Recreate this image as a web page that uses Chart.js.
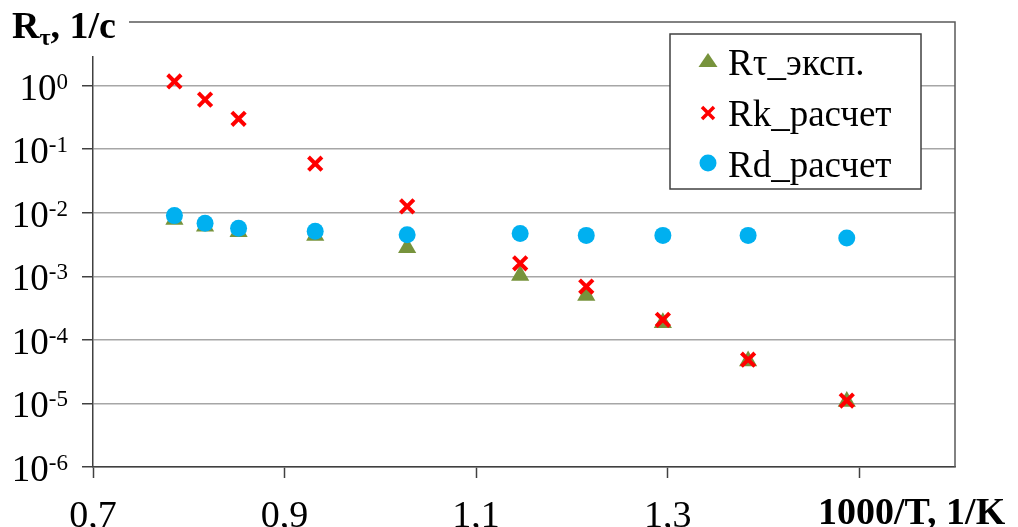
<!DOCTYPE html>
<html>
<head>
<meta charset="utf-8">
<script src="https://cdn.jsdelivr.net/npm/chart.js@4"></script>
<style>
html, body { margin: 0; padding: 0; background: #fff; }
</style>
</head>
<body>
<canvas id="myChart" width="1018" height="527"></canvas>
<script>
// 1000/T, 1/K
const invT = [0.785, 0.817, 0.852, 0.932, 1.028, 1.146, 1.215, 1.295, 1.384, 1.487];
// Rτ эксп., 1/c
const rTauExp = [0.0078, 0.0061, 0.0050, 0.0044, 0.0028, 0.00103, 0.00050, 0.000185, 0.0000465, 0.0000107];
// Rk расчет
const rkCalc = [1.16, 0.60, 0.30, 0.059, 0.0126, 0.0016, 0.00069, 0.000207, 0.0000487, 0.0000111];
// Rd расчет
const rdCalc = [0.0090, 0.0068, 0.0057, 0.0051, 0.0045, 0.0047, 0.0044, 0.0044, 0.0044, 0.0040];

const seriesNames = ['Rτ_эксп.', 'Rk_расчет', 'Rd_расчет'];
const xTicks = [0.7, 0.9, 1.1, 1.3, 1.5];
const xTickLabels = ['0,7', '0,9', '1,1', '1,3', ''];
const yTicks = [1e-6, 1e-5, 1e-4, 1e-3, 1e-2, 1e-1, 1e0];
const yTickPowers = ['-6', '-5', '-4', '-3', '-2', '-1', '0'];
const yTitle = ['R', 'τ', ', 1/c'];
const xTitle = '1000/T, 1/K';

const green = '#77933c', red = '#ff0000', blue = '#00b0f0';
const serif = '"Liberation Serif", "Times New Roman", serif';

function pts(ys) {
  return invT.map((x, i) => ({ x: x, y: ys[i] }));
}

// подписи, легенда, рамка
const decor = {
  id: 'decor',
  afterDraw(chart) {
    const ctx = chart.ctx, a = chart.chartArea, ys = chart.scales.y;
    ctx.save();

    // верх и правая сторона рамки
    ctx.strokeStyle = '#595959';
    ctx.lineWidth = 1.5;
    ctx.beginPath();
    ctx.moveTo(a.left, a.top);
    ctx.lineTo(a.right, a.top);
    ctx.lineTo(a.right, a.bottom);
    ctx.stroke();

    // заголовок оси Y
    ctx.fillStyle = '#fff';
    ctx.fillRect(0, 0, 129, 56);
    ctx.fillStyle = '#000';
    ctx.textAlign = 'left';
    ctx.textBaseline = 'alphabetic';
    ctx.font = 'bold 38px ' + serif;
    ctx.fillText(yTitle[0], 12, 38);
    let tx = 12 + ctx.measureText(yTitle[0]).width;
    ctx.font = 'bold 24px ' + serif;
    ctx.fillText(yTitle[1], tx, 45);
    tx += ctx.measureText(yTitle[1]).width;
    ctx.font = 'bold 38px ' + serif;
    ctx.fillText(yTitle[2], tx, 38);

    // подписи оси Y со степенью
    ctx.textAlign = 'right';
    yTicks.forEach((v, i) => {
      const py = ys.getPixelForValue(v);
      ctx.font = '23px ' + serif;
      const sw = ctx.measureText(yTickPowers[i]).width;
      ctx.fillText(yTickPowers[i], 68, py + 3);
      ctx.font = '37px ' + serif;
      ctx.fillText('10', 68 - sw, py + 14);
    });

    // заголовок оси X
    ctx.textAlign = 'left';
    ctx.font = 'bold 38px ' + serif;
    ctx.fillText(xTitle, 818, 524);

    // легенда
    ctx.fillStyle = '#fff';
    ctx.fillRect(670, 34, 251, 155);
    ctx.strokeStyle = '#404040';
    ctx.lineWidth = 1.5;
    ctx.strokeRect(670, 34, 251, 155);

    ctx.fillStyle = green;
    ctx.beginPath();
    ctx.moveTo(708, 53);
    ctx.lineTo(717.5, 67);
    ctx.lineTo(698.5, 67);
    ctx.closePath();
    ctx.fill();

    ctx.strokeStyle = red;
    ctx.lineWidth = 3.5;
    ctx.beginPath();
    ctx.moveTo(702, 107); ctx.lineTo(714, 119);
    ctx.moveTo(714, 107); ctx.lineTo(702, 119);
    ctx.stroke();

    ctx.fillStyle = blue;
    ctx.beginPath();
    ctx.arc(708, 163, 8.5, 0, Math.PI * 2);
    ctx.fill();

    ctx.fillStyle = '#000';
    ctx.font = '37px ' + serif;
    ctx.fillText(seriesNames[0], 728, 75);
    ctx.fillText(seriesNames[1], 728, 126);
    ctx.fillText(seriesNames[2], 728, 177);

    ctx.restore();
  }
};

new Chart(document.getElementById('myChart'), {
  type: 'scatter',
  data: {
    datasets: [
      {
        label: seriesNames[2],
        data: pts(rdCalc),
        pointStyle: 'circle',
        radius: 8.5,
        backgroundColor: blue,
        borderWidth: 0,
        order: 0
      },
      {
        label: seriesNames[1],
        data: pts(rkCalc),
        pointStyle: 'crossRot',
        radius: 9.5,
        borderColor: red,
        borderWidth: 4,
        order: 1
      },
      {
        label: seriesNames[0],
        data: pts(rTauExp),
        pointStyle: 'triangle',
        radius: 10.5,
        backgroundColor: green,
        borderWidth: 0,
        order: 2
      }
    ]
  },
  options: {
    responsive: false,
    animation: false,
    layout: { padding: { top: 22, right: 63, left: 0, bottom: 0 } },
    plugins: {
      legend: { display: false },
      tooltip: { enabled: false }
    },
    scales: {
      x: {
        type: 'linear',
        min: 0.7,
        max: 1.6,
        afterBuildTicks: s => { s.ticks = xTicks.map(v => ({ value: v })); },
        afterFit: s => { s.height = 60; },
        grid: { drawOnChartArea: false, tickLength: 11, tickColor: '#404040', tickWidth: 1.5 },
        border: { color: '#404040', width: 1.5 },
        ticks: {
          font: { family: serif, size: 38 },
          color: '#000',
          padding: 16,
          maxRotation: 0,
          autoSkip: false,
          callback: (v, i) => xTickLabels[i]
        }
      },
      y: {
        type: 'logarithmic',
        min: 1e-6,
        max: 10,
        afterBuildTicks: s => { s.ticks = yTicks.map(v => ({ value: v })); },
        afterFit: s => { s.width = 93; },
        grid: { color: '#a6a6a6', lineWidth: 1.5, tickLength: 11, tickColor: '#404040', tickWidth: 1.5 },
        border: { color: '#404040', width: 1.5 },
        ticks: { display: false }
      }
    }
  },
  plugins: [decor]
});
</script>
</body>
</html>
